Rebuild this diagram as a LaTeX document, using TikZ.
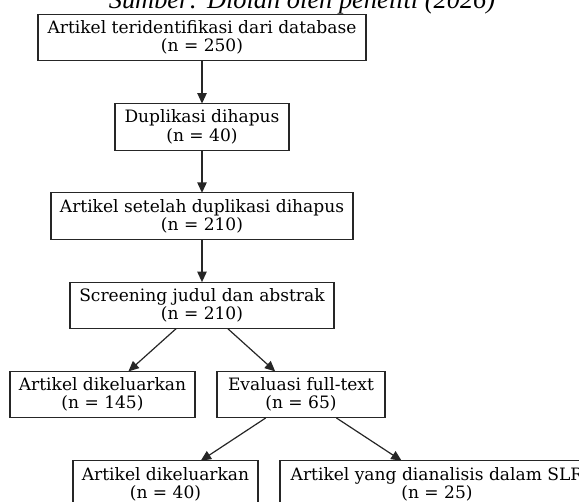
\documentclass[tikz,border=0pt]{standalone}
\usepackage{fontspec}
\setmainfont{DejaVu Serif}
\newfontfamily\captionfont{Liberation Serif}
\usetikzlibrary{arrows.meta}
\tikzset{
  flowbox/.style={draw=black!85, line width=0.8pt, rectangle, inner sep=0pt, outer sep=0pt,
    minimum height=0.75pt*46.5, align=center, font=\fontsize{12.8pt}{13.6pt}\selectfont},
  flowarrow/.style={draw=black!85, line width=0.9pt, -{Triangle[length=7.8pt,width=7pt]}}
}
\begin{document}
\begin{tikzpicture}[x=0.75pt,y=-0.75pt]
\useasboundingbox (0,0) rectangle (579,502);
\clip (0,0) rectangle (579,502);
\node[font=\captionfont\itshape\fontsize{19.8pt}{22pt}\selectfont, anchor=base] (cap) at (302,9) {Sumber: Diolah oleh peneliti (2026)};
\node[flowbox, minimum width=0.75pt*328] (b1) at (202,37.5) {Artikel teridentifikasi dari database\\(n = 250)};
\node[flowbox, minimum width=0.75pt*174] (b2) at (202,126.8) {Duplikasi dihapus\\(n = 40)};
\node[flowbox, minimum width=0.75pt*302] (b3) at (202,216.1) {Artikel setelah duplikasi dihapus\\(n = 210)};
\node[flowbox, minimum width=0.75pt*264] (b4) at (202,305.4) {Screening judul dan abstrak\\(n = 210)};
\node[flowbox, minimum width=0.75pt*185] (b5) at (102.5,394.7) {Artikel dikeluarkan\\(n = 145)};
\node[flowbox, minimum width=0.75pt*168] (b6) at (301,394.7) {Evaluasi full-text\\(n = 65)};
\node[flowbox, minimum width=0.75pt*185] (b7) at (165.5,484) {Artikel dikeluarkan\\(n = 40)};
\node[flowbox, minimum width=0.75pt*314] (b8) at (437,484) {Artikel yang dianalisis dalam SLR\\(n = 25)};
\draw[flowarrow] (b1) -- (b2);
\draw[flowarrow] (b2) -- (b3);
\draw[flowarrow] (b3) -- (b4);
\draw[flowarrow] (b4) -- (b5);
\draw[flowarrow] (b4) -- (b6);
\draw[flowarrow] (b6) -- (b7);
\draw[flowarrow] (b6) -- (b8);
\end{tikzpicture}
\end{document}
